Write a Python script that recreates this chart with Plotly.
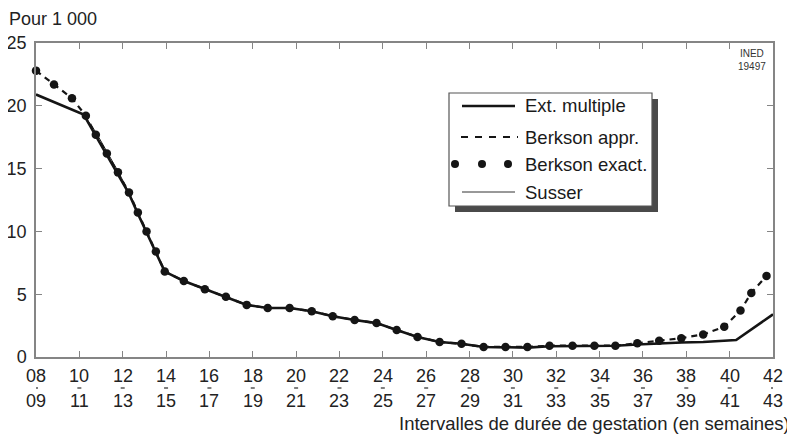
import plotly.graph_objects as go

# ---------------- data ----------------
# Berkson exact. (dots) and Berkson appr. (dashed), x in weeks
berk_x = [8.0, 8.83, 9.66, 10.3, 10.76, 11.27, 11.78, 12.29, 12.7, 13.1, 13.53, 13.94,
          14.82, 15.79, 16.76, 17.72, 18.69, 19.7, 20.72, 21.69, 22.7, 23.71, 24.64,
          25.6, 26.62, 27.63, 28.65, 29.66, 30.67, 31.69, 32.75, 33.76, 34.73, 35.74,
          36.75, 37.77, 38.78, 39.75, 40.5, 41.0, 41.7]
berk_exact = [22.8, 21.7, 20.6, 19.2, 17.7, 16.2, 14.7, 13.1, 11.5, 10.0, 8.4, 6.8,
              6.05, 5.4, 4.8, 4.15, 3.9, 3.9, 3.65, 3.25, 2.95, 2.7, 2.15,
              1.6, 1.2, 1.05, 0.8, 0.8, 0.8, 0.9, 0.9, 0.9, 0.9, 1.1,
              1.3, 1.5, 1.8, 2.4, 3.7, 5.1, 6.45]
appr_x = berk_x + [42.0]
appr_y = berk_exact + [6.9]

# Ext. multiple (thick solid)
ext_x = [8.0, 10.2, 10.76, 11.27, 11.78, 12.29, 12.7, 13.1, 13.53, 13.94,
         14.82, 15.79, 16.76, 17.72, 18.69, 19.7, 20.72, 21.69, 22.7, 23.71, 24.64,
         25.6, 26.62, 27.63, 28.65, 29.66, 30.67, 31.69, 32.75, 33.76, 34.73, 35.74,
         36.75, 37.77, 38.78, 39.75, 40.3, 42.0]
ext_y = [20.9, 19.3, 17.6, 16.1, 14.6, 13.0, 11.4, 9.9, 8.3, 6.8,
         6.05, 5.4, 4.8, 4.15, 3.9, 3.9, 3.65, 3.25, 2.95, 2.7, 2.15,
         1.6, 1.2, 1.05, 0.8, 0.75, 0.75, 0.85, 0.85, 0.85, 0.9, 1.0,
         1.1, 1.15, 1.2, 1.3, 1.35, 3.4]

# Susser (thin solid)
sus_x = ext_x
sus_y = [20.9, 19.3, 17.9, 16.4, 14.8, 13.1, 11.5, 9.9, 8.3, 6.8,
         6.05, 5.4, 4.8, 4.15, 3.9, 3.9, 3.65, 3.25, 2.95, 2.7, 2.15,
         1.6, 1.2, 1.05, 0.8, 0.75, 0.75, 0.85, 0.85, 0.85, 0.9, 1.0,
         1.1, 1.15, 1.2, 1.3, 1.35, 3.4]

x_ticks = [8, 10, 12, 14, 16, 18, 20, 22, 24, 26, 28, 30, 32, 34, 36, 38, 40, 42]
x_top = ["08", "10", "12", "14", "16", "18", "20", "22", "24", "26", "28", "30",
         "32", "34", "36", "38", "40", "42"]
x_bottom = ["09", "11", "13", "15", "17", "19", "21", "23", "25", "27", "29", "31",
            "33", "35", "37", "39", "41", "43"]
y_ticks = [0, 5, 10, 15, 20, 25]

legend_labels = ["Ext. multiple", "Berkson appr.", "Berkson exact.", "Susser"]

# ---------------- layout geometry (page pixels) ----------------
OFF = 8                       # default body margin of the html page
W, H = 795 - OFF, 440 - OFF   # figure size
PL, PR, PT, PB = 36, 773, 43, 357   # plot area on the page
L, T = PL - OFF, PT - OFF
R, B = (W + OFF) - PR, (H + OFF) - PB
PW, PH = PR - PL, PB - PT
FONT = "Liberation Sans, Arial, Helvetica, sans-serif"
INK = "#151515"
FRAME = "#858585"
TXT = 18
BIG = 18.5


def px(xp):
    return (xp - PL) / PW


def py(yp):
    return (PB - yp) / PH


fig = go.Figure()
fig.add_trace(go.Scatter(x=sus_x, y=sus_y, mode="lines", cliponaxis=False,
                         line=dict(color=INK, width=1), name="Susser"))
fig.add_trace(go.Scatter(x=ext_x, y=ext_y, mode="lines", cliponaxis=False,
                         line=dict(color=INK, width=2.6), name="Ext. multiple"))
fig.add_trace(go.Scatter(x=appr_x, y=appr_y, mode="lines", cliponaxis=False,
                         line=dict(color=INK, width=2.2, dash="6px,5px"),
                         name="Berkson appr."))
fig.add_trace(go.Scatter(x=berk_x, y=berk_exact, mode="markers", cliponaxis=False,
                         marker=dict(color=INK, size=8.5), name="Berkson exact."))

annotations = []
shapes = []
for t, a, b in zip(x_ticks, x_top, x_bottom):
    annotations.append(dict(x=t, xref="x", y=0, yref="paper", text=a, showarrow=False,
                            yanchor="middle", yshift=-19, borderpad=0,
                            font=dict(size=TXT, color="#222")))
    annotations.append(dict(x=t, xref="x", y=0, yref="paper", text=b, showarrow=False,
                            yanchor="middle", yshift=-44, borderpad=0,
                            font=dict(size=TXT, color="#222")))
    shapes.append(dict(type="line", xref="x", xsizemode="pixel", xanchor=t, x0=-2, x1=2,
                       yref="paper", y0=py(388), y1=py(388),
                       line=dict(color="#555", width=1.5)))

annotations += [
    dict(x=0, xref="paper", y=1, yref="paper", text="Pour 1 000", showarrow=False,
         xanchor="left", yanchor="middle", xshift=-29, yshift=24,
         font=dict(size=TXT, color="#222")),
    dict(x=1, xref="paper", y=0, yref="paper",
         text="Intervalles de durée de gestation (en semaines)", showarrow=False,
         xanchor="right", yanchor="middle", xshift=19, yshift=-66,
         font=dict(size=BIG, color="#222")),
    dict(x=px(752), xref="paper", y=py(60), yref="paper", text="INED<br>19497",
         showarrow=False, xanchor="center", yanchor="middle",
         font=dict(size=10, color="#333")),
]

# manual legend
bx0, by0, bx1, by1 = 449, 93, 652, 206
shapes.append(dict(type="rect", xref="paper", yref="paper",
                   x0=px(bx0 + 6), x1=px(bx1 + 6), y0=py(by1 + 6), y1=py(by0 + 6),
                   fillcolor="#4a4a4a", line=dict(width=0)))
shapes.append(dict(type="rect", xref="paper", yref="paper",
                   x0=px(bx0), x1=px(bx1), y0=py(by1), y1=py(by0),
                   fillcolor="white", line=dict(color="#555", width=1.2)))
rows = [106, 137, 164, 192]
shapes.append(dict(type="line", xref="paper", yref="paper", x0=px(462), x1=px(515),
                   y0=py(rows[0]), y1=py(rows[0]), line=dict(color=INK, width=2.6)))
shapes.append(dict(type="line", xref="paper", yref="paper", x0=px(461), x1=px(518),
                   y0=py(rows[1]), y1=py(rows[1]),
                   line=dict(color=INK, width=2.2, dash="7px,7px")))
for cx in [455, 482, 508]:
    r = 4
    shapes.append(dict(type="circle", xref="paper", yref="paper",
                       x0=px(cx - r), x1=px(cx + r), y0=py(rows[2] + r), y1=py(rows[2] - r),
                       fillcolor=INK, line=dict(width=0)))
shapes.append(dict(type="line", xref="paper", yref="paper", x0=px(462), x1=px(515),
                   y0=py(rows[3]), y1=py(rows[3]), line=dict(color="#333", width=1)))
for lab, ry in zip(legend_labels, rows):
    annotations.append(dict(x=px(523), xref="paper", y=py(ry), yref="paper", text=lab,
                            showarrow=False, xanchor="left", yanchor="middle",
                            font=dict(size=BIG, color="#1a1a1a")))

axis_common = dict(showgrid=False, zeroline=False, showline=True, linecolor=FRAME,
                   linewidth=1.5, mirror="ticks", ticks="inside", ticklen=6,
                   tickcolor=FRAME, tickwidth=1.2, automargin=False)

fig.update_layout(
    width=W, height=H, margin=dict(l=L, r=R, t=T, b=B, autoexpand=False),
    paper_bgcolor="white", plot_bgcolor="white", showlegend=False,
    font=dict(family=FONT, color="#222"),
    xaxis=dict(range=[8, 42], tickvals=x_ticks, showticklabels=False, **axis_common),
    yaxis=dict(range=[0, 25], tickvals=y_ticks, tickfont=dict(size=TXT),
               ticklabelstandoff=4, **axis_common),
    annotations=annotations, shapes=shapes,
)

fig.write_html("out.html")
